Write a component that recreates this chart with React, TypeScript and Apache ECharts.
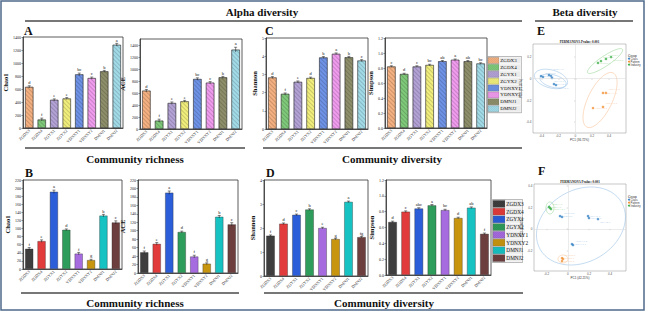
import React, { useEffect, useRef } from 'react';
import * as echarts from 'echarts';

const FONT = "'Liberation Serif', 'Times New Roman', serif";

// ---------- bar chart data ----------
const categories = ['ZGDX3', 'ZGDX4', 'ZGYX1', 'ZGYX2', 'YDNXY1', 'YDNXY2', 'DMNJ1', 'DMNJ2'];
const pastelColors = ['#F4B080', '#7FC97A', '#B3A2D6', '#F1EE7C', '#6E92E6', '#F09BEE', '#8E8F6A', '#A2DBE8'];
const vividColors = ['#3E3E3E', '#E23B3B', '#2B5ED8', '#2E9C5A', '#A66BDF', '#C8950F', '#17C2C2', '#6D3E3E'];

// Panel A (community richness, pastel)
const chao1A = [632, 130, 433, 454, 825, 768, 872, 1280];
const chao1AErr = [18, 22, 15, 14, 20, 16, 14, 22];
const chao1ALetters = ['d', 'f', 'e', 'e', 'bc', 'c', 'b', 'a'];
const aceA = [639, 139, 433, 461, 833, 772, 861, 1322];
const aceAErr = [20, 25, 18, 16, 20, 18, 16, 40];
const aceALetters = ['d', 'f', 'e', 'e', 'bc', 'c', 'b', 'a'];

// Panel B (community richness, vivid)
const chao1B = [50, 69, 191, 97, 38, 22, 132, 115];
const chao1BErr = [3, 3, 4, 2, 3, 2, 3, 4];
const chao1BLetters = ['f', 'e', 'a', 'd', 'f', 'g', 'b', 'c'];
const aceB = [49, 69, 190, 97, 39, 22, 133, 115];
const aceBErr = [3, 3, 4, 2, 3, 2, 3, 4];
const aceBLetters = ['f', 'e', 'a', 'd', 'f', 'g', 'b', 'c'];

// Panel C (community diversity, pastel)
const shannonC = [2.83, 1.93, 2.59, 2.8, 3.93, 4.13, 3.94, 3.76];
const shannonCErr = [0.05, 0.05, 0.05, 0.05, 0.05, 0.05, 0.05, 0.05];
const shannonCLetters = ['d', 'f', 'e', 'd', 'b', 'a', 'b', 'c'];
const simpsonC = [0.82, 0.72, 0.82, 0.84, 0.89, 0.91, 0.89, 0.86];
const simpsonCErr = [0.01, 0.01, 0.01, 0.01, 0.01, 0.01, 0.01, 0.01];
const simpsonCLetters = ['c', 'd', 'c', 'bc', 'ab', 'a', 'ab', 'bc'];

// Panel D (community diversity, vivid)
const shannonD = [1.68, 2.18, 2.55, 2.77, 2.0, 1.54, 3.09, 1.62];
const shannonDErr = [0.03, 0.03, 0.03, 0.03, 0.03, 0.03, 0.03, 0.03];
const shannonDLetters = ['f', 'd', 'c', 'b', 'e', 'g', 'a', 'fg'];
const simpsonD = [0.67, 0.8, 0.84, 0.88, 0.82, 0.72, 0.85, 0.52];
const simpsonDErr = [0.01, 0.01, 0.01, 0.01, 0.01, 0.01, 0.01, 0.01];
const simpsonDLetters = ['d', 'c', 'abc', 'a', 'bc', 'd', 'ab', 'f'];

// ---------- PCoA data ----------
const groupNames = ['Class', 'Pattern', 'Industry'];
const groupColors = ['#3A84C6', '#F39237', '#3DB049'];
const ellipseColors = ['#9CC3E6', '#F8C59C', '#9CD69A'];

const eClass = [
  [-0.405, 0.025, 'ZGDX3-1'], [-0.382, 0.016, 'ZGDX3-2'], [-0.311, 0.034, 'ZGDX4-1'],
  [-0.287, 0.025, 'ZGDX4-2'], [-0.275, 0.007, 'ZGYX1-1'], [-0.252, -0.049, 'ZGYX2-1'], [-0.228, -0.058, 'ZGYX2-2'],
];
const ePattern = [
  [0.328, -0.131, 'YDNXY1-1'], [0.363, -0.131, 'YDNXY1-2'], [0.21, -0.27, 'YDNXY2-1'], [0.328, -0.26, 'YDNXY2-2'],
];
const eIndustry = [
  [0.269, 0.145, 'DMNJ1-1'], [0.304, 0.163, 'DMNJ1-2'], [0.363, 0.182, 'DMNJ2-1'], [0.423, 0.2, 'DMNJ2-2'],
];
// ellipse: [cx, cy, ax, ay, bx, by, groupIndex]
const eEllipses = [
  [-0.287, -0.002, 0.194, -0.041, -0.027, -0.08, 0],
  [-0.263, -0.021, 0.154, -0.032, -0.019, -0.055, 0],
  [0.293, -0.196, 0.156, 0.249, 0.128, -0.049, 1],
  [0.352, 0.163, 0.206, 0.108, 0.033, -0.038, 2],
];

const fClass = [
  [-0.074, 0.122, 'ZGDX3-1'], [-0.055, 0.113, 'ZGDX3-2'], [0.191, 0.122, 'ZGYX1-1'],
  [0.2, 0.103, 'ZGYX1-2'], [0.285, 0.094, 'ZGYX2-1'], [0.039, -0.139, 'YDNXY1-1'], [0.049, -0.148, 'YDNXY1-2'],
];
const fPattern = [
  [-0.055, -0.269, 'DMNJ1-1'], [-0.055, -0.297, 'DMNJ1-2'], [-0.046, -0.278, 'DMNJ2-1'],
];
const fIndustry = [
  [-0.178, 0.206, 'ZGDX4-1'], [-0.169, 0.197, 'ZGDX4-2'], [-0.159, 0.187, 'YDNXY2-1'],
];
const fEllipses = [
  [0.124, 0.029, 0.385, 0.219, 0.17, -0.29, 0],
  [-0.046, -0.278, 0.047, 0, 0, -0.037, 1],
  [-0.169, 0.197, 0, 0.056, 0.038, 0, 2],
];

const hatchDecal = {
  symbol: 'rect',
  symbolSize: 1,
  color: 'rgba(0,0,0,0.16)',
  dashArrayX: [1, 0],
  dashArrayY: [1, 2],
  rotation: Math.PI / 4,
};

type BarSpec = {
  grid: { left: number; top: number; width: number; height: number };
  values: number[];
  errs: number[];
  letters: string[];
  colors: string[];
  hatch: boolean;
  max: number;
  interval: number;
  name: string;
  nameGap: number;
  decimals: number;
};

const barSpecs: BarSpec[] = [
  { grid: { left: 23, top: 37, width: 100, height: 91 }, values: chao1A, errs: chao1AErr, letters: chao1ALetters, colors: pastelColors, hatch: true, max: 1400, interval: 200, name: 'Chao1', nameGap: 11, decimals: 0 },
  { grid: { left: 140, top: 39, width: 102, height: 90 }, values: aceA, errs: aceAErr, letters: aceALetters, colors: pastelColors, hatch: true, max: 1500, interval: 200, name: 'ACE', nameGap: 10, decimals: 0 },
  { grid: { left: 266, top: 38, width: 102, height: 91 }, values: shannonC, errs: shannonCErr, letters: shannonCLetters, colors: pastelColors, hatch: true, max: 5, interval: 1, name: 'Shannon', nameGap: 6, decimals: 0 },
  { grid: { left: 385, top: 38, width: 102, height: 90 }, values: simpsonC, errs: simpsonCErr, letters: simpsonCLetters, colors: pastelColors, hatch: true, max: 1.2, interval: 0.2, name: 'Simpson', nameGap: 7, decimals: 1 },
  { grid: { left: 23, top: 180, width: 99, height: 89 }, values: chao1B, errs: chao1BErr, letters: chao1BLetters, colors: vividColors, hatch: false, max: 220, interval: 20, name: 'Chao1', nameGap: 9, decimals: 0 },
  { grid: { left: 138, top: 180, width: 100, height: 93 }, values: aceB, errs: aceBErr, letters: aceBLetters, colors: vividColors, hatch: false, max: 220, interval: 20, name: 'ACE', nameGap: 9, decimals: 0 },
  { grid: { left: 264, top: 180, width: 104, height: 96 }, values: shannonD, errs: shannonDErr, letters: shannonDLetters, colors: vividColors, hatch: false, max: 4, interval: 1, name: 'Shannon', nameGap: 6, decimals: 0 },
  { grid: { left: 386, top: 180, width: 105, height: 95 }, values: simpsonD, errs: simpsonDErr, letters: simpsonDLetters, colors: vividColors, hatch: false, max: 1.2, interval: 0.2, name: 'Simpson', nameGap: 7, decimals: 1 },
];

function legendGfx(x0: number, y0: number, rowH: number, swW: number, boxW: number, colors: string[], fontSize: number) {
  const els: any[] = [];
  els.push({ type: 'rect', shape: { x: x0 - 0.5, y: y0 - 0.5, width: boxW + 1, height: rowH * categories.length + 1 }, style: { fill: '#f2f2f2', stroke: '#8a8a8a', lineWidth: 0.6 } });
  categories.forEach((c, i) => {
    const y = y0 + i * rowH;
    const h = rowH - 0.8;
    els.push({ type: 'rect', shape: { x: x0, y: y + 0.4, width: swW, height: h }, style: { fill: colors[i], stroke: '#666', lineWidth: 0.3 } });
    for (let s = 1.5; s < swW + h; s += 2) {
      const u1 = Math.max(0, s - h);
      const u2 = Math.min(swW, s);
      els.push({ type: 'line', shape: { x1: x0 + u1, y1: y + 0.4 + (s - u1), x2: x0 + u2, y2: y + 0.4 + (s - u2) }, style: { stroke: 'rgba(0,0,0,0.22)', lineWidth: 0.35 } });
    }
    els.push({ type: 'rect', shape: { x: x0 + swW + 0.5, y: y + 0.3, width: boxW - swW - 0.5, height: rowH - 0.6 }, style: { fill: '#ebebeb', stroke: '#ffffff', lineWidth: 0.4 } });
    els.push({ type: 'text', x: x0 + swW + 1.3, y: y + rowH / 2, style: { text: c, fontSize, fontFamily: FONT, fill: '#111', align: 'left', verticalAlign: 'middle', textAlign: 'left', textVerticalAlign: 'middle' } });
  });
  return els;
}

function txt(text: string, x: number, y: number, size: number, bold = true, align = 'center') {
  return {
    type: 'text', x, y,
    style: { text, fontSize: size, fontWeight: bold ? 'bold' : 'normal', fontFamily: FONT, fill: '#111', align, verticalAlign: 'middle', textAlign: align, textVerticalAlign: 'middle' },
  };
}
function hline(x1: number, x2: number, y: number, w = 1.5, color = '#4a4a4a') {
  return { type: 'line', shape: { x1, y1: y, x2, y2: y }, style: { stroke: color, lineWidth: w } };
}

function pcoaLegend(x: number, y: number) {
  const els: any[] = [txt('Group', x, y, 3.4, false, 'left')];
  groupNames.forEach((g, i) => {
    const yy = y + 3.2 + i * 3;
    els.push({ type: 'circle', shape: { cx: x + 1, cy: yy, r: 1 }, style: { fill: groupColors[i] } });
    els.push({ type: 'text', x: x + 2.6, y: yy, style: { text: g, fontSize: 2.8, fontFamily: 'Liberation Sans, sans-serif', fill: '#333', align: 'left', verticalAlign: 'middle', textAlign: 'left', textVerticalAlign: 'middle' } });
  });
  return els;
}

// simple greedy label repel for the tiny sample labels
const placedLabels = new Map<string, number[]>();
function repelLabel(params: any) {
  const r = params.labelRect;
  const key = params.seriesIndex + '-' + params.dataIndex;
  const offsets = [0, -3.2, 3.2, -6.4, 6.4, -9.6, 9.6, -12.8, 12.8];
  for (const dy of offsets) {
    const rr = [r.x, r.y + dy, r.width, r.height];
    let ok = true;
    for (const [k, o] of placedLabels) {
      if (k === key) continue;
      if (rr[0] < o[0] + o[2] && o[0] < rr[0] + rr[2] && rr[1] < o[1] + o[3] && o[1] < rr[1] + rr[3]) { ok = false; break; }
    }
    if (ok) {
      placedLabels.set(key, rr);
      return { dy };
    }
  }
  placedLabels.set(key, [r.x, r.y, r.width, r.height]);
  return { dy: 0 };
}

function buildOption() {
  const grid: any[] = [];
  const xAxis: any[] = [];
  const yAxis: any[] = [];
  const series: any[] = [];

  barSpecs.forEach((b, gi) => {
    grid.push({ ...b.grid, show: true, borderColor: '#333', borderWidth: 0.8, containLabel: false, outerBoundsMode: 'none' });
    xAxis.push({
      type: 'category', gridIndex: gi, data: categories,
      axisLabel: { rotate: 45, fontSize: 4.2, margin: 2, interval: 0, fontFamily: FONT, color: '#222' },
      axisTick: { show: false },
      axisLine: { lineStyle: { color: '#333', width: 0.8 } },
    });
    const ratio = b.max / b.interval;
    yAxis.push({
      type: 'value', gridIndex: gi, min: 0, max: b.max, interval: b.interval,
      axisLabel: {
        fontSize: 4, margin: 2, fontFamily: FONT, color: '#222',
        showMaxLabel: Math.abs(ratio - Math.round(ratio)) < 1e-6,
        formatter: (v: number) => v.toFixed(b.decimals),
      },
      axisTick: { show: true, length: 1.5, lineStyle: { color: '#333', width: 0.5 } },
      axisLine: { show: true, lineStyle: { color: '#333', width: 0.8 } },
      splitLine: { show: false },
      name: b.name, nameLocation: 'middle', nameGap: b.nameGap,
      nameTextStyle: { fontSize: 6.5, fontWeight: 'bold', fontFamily: FONT, color: '#111' },
    });
    series.push({
      type: 'bar', xAxisIndex: gi, yAxisIndex: gi, barWidth: '66%',
      itemStyle: { borderColor: 'rgba(40,40,40,0.7)', borderWidth: 0.5 },
      data: b.values.map((v, i) => ({ value: v, itemStyle: { color: b.colors[i], decal: b.hatch ? hatchDecal : undefined } })),
    });
    series.push({
      type: 'custom', xAxisIndex: gi, yAxisIndex: gi, silent: true, z: 5,
      data: b.values.map((v, i) => [i, v, b.errs[i]]),
      renderItem: (params: any, api: any) => {
        const i = api.value(0), v = api.value(1), e = api.value(2);
        const pTop = api.coord([i, v + e]);
        const pBot = api.coord([i, Math.max(0, v - e)]);
        const cw = api.size([1, 0])[0] * 0.12;
        return {
          type: 'group',
          children: [
            { type: 'line', shape: { x1: pTop[0], y1: pTop[1], x2: pBot[0], y2: pBot[1] }, style: { stroke: '#111', lineWidth: 0.5 } },
            { type: 'line', shape: { x1: pTop[0] - cw, y1: pTop[1], x2: pTop[0] + cw, y2: pTop[1] }, style: { stroke: '#111', lineWidth: 0.5 } },
            { type: 'text', x: pTop[0], y: pTop[1] - 0.8, style: { text: b.letters[params.dataIndex], fontSize: 4.5, fontFamily: FONT, fill: '#111', align: 'center', verticalAlign: 'bottom', textAlign: 'center', textVerticalAlign: 'bottom' } },
          ],
        };
      },
    });
  });

  const pcoas = [
    { grid: { left: 533, top: 44, width: 93, height: 89 }, xr: [-0.5, 0.6], yr: [-0.5, 0.32], groups: [eClass, ePattern, eIndustry], ells: eEllipses, xName: 'PC1 (36.72%)', yName: 'PC2 (21.35%)' },
    { grid: { left: 534, top: 184, width: 92, height: 87 }, xr: [-0.32, 0.55], yr: [-0.39, 0.42], groups: [fClass, fPattern, fIndustry], ells: fEllipses, xName: 'PC1 (42.21%)', yName: 'PC2 (25.06%)' },
  ];
  pcoas.forEach((p) => {
    const gi = grid.length;
    grid.push({ ...p.grid, show: true, borderColor: '#8c8c8c', borderWidth: 0.5, containLabel: false, outerBoundsMode: 'none' });
    const axisCommon = {
      axisLabel: { fontSize: 3, margin: 1.5, color: '#555', showMinLabel: false, showMaxLabel: false, fontFamily: 'Liberation Sans, sans-serif' },
      axisTick: { show: true, length: 1, lineStyle: { color: '#888', width: 0.4 } },
      axisLine: { show: false },
      splitLine: { show: false },
      nameLocation: 'middle',
      nameTextStyle: { fontSize: 3, color: '#333', fontFamily: 'Liberation Sans, sans-serif' },
    };
    xAxis.push({ type: 'value', gridIndex: gi, min: p.xr[0], max: p.xr[1], name: p.xName, nameGap: 5, ...axisCommon });
    yAxis.push({ type: 'value', gridIndex: gi, min: p.yr[0], max: p.yr[1], name: p.yName, nameGap: 6, ...axisCommon });
    series.push({
      type: 'custom', xAxisIndex: gi, yAxisIndex: gi, silent: true, z: 1,
      data: p.ells,
      renderItem: (params: any, api: any) => {
        const cx = api.value(0), cy = api.value(1), ax = api.value(2), ay = api.value(3), bx = api.value(4), by = api.value(5);
        const g = p.ells[params.dataIndex][6] as number;
        const pts: number[][] = [];
        for (let k = 0; k <= 60; k++) {
          const t = (2 * Math.PI * k) / 60;
          pts.push(api.coord([cx + ax * Math.cos(t) + bx * Math.sin(t), cy + ay * Math.cos(t) + by * Math.sin(t)]));
        }
        return { type: 'polygon', shape: { points: pts }, style: { fill: 'none', stroke: ellipseColors[g], lineWidth: 0.6 } };
      },
    });
    p.groups.forEach((pts, k) => {
      series.push({
        type: 'scatter', name: groupNames[k], xAxisIndex: gi, yAxisIndex: gi, z: 3,
        symbolSize: 2.6,
        itemStyle: { color: groupColors[k] },
        data: pts.map((q) => [q[0], q[1], q[2]]),
        label: { show: true, position: 'right', distance: 1, fontSize: 2.4, color: ellipseColors[k], formatter: (pp: any) => pp.data[2] },
        labelLayout: repelLabel,
        markLine: k === 0 ? {
          silent: true, symbol: ['none', 'none'], label: { show: false },
          lineStyle: { color: '#d6d6d6', width: 0.5, type: 'solid' },
          data: [{ xAxis: 0 }, { yAxis: 0 }],
        } : undefined,
      });
    });
  });

  const graphic: any[] = [
    { type: 'rect', shape: { x: 1, y: 1, width: 643, height: 309 }, style: { fill: 'none', stroke: '#4f6a8c', lineWidth: 1.5 } },
    txt('Alpha diversity', 262, 12, 11),
    hline(25, 522, 21),
    txt('Beta diversity', 585, 12, 11),
    hline(535, 633, 21),
    txt('A', 24, 31, 12, true, 'left'),
    txt('B', 25, 172.5, 12, true, 'left'),
    txt('C', 265, 31, 12, true, 'left'),
    txt('D', 266, 172.5, 12, true, 'left'),
    txt('E', 537, 30.5, 12, true, 'left'),
    txt('F', 538, 171, 12, true, 'left'),
    hline(25, 245, 148),
    hline(263, 522, 148),
    hline(21, 239, 293),
    hline(264, 523, 293),
    txt('Community richness', 135, 158.5, 11),
    txt('Community diversity', 392, 158.5, 11),
    txt('Community richness', 135, 302.5, 11),
    txt('Community diversity', 384, 302.5, 11),
    txt('PERMANOVA Pvalue: 0.001', 579.5, 41.5, 3.2, true),
    txt('PERMANOVA Pvalue: 0.001', 580, 181.5, 3.2, true),
    ...legendGfx(488, 57, 6.9, 11, 33, pastelColors, 5),
    ...legendGfx(493, 200, 7.75, 12, 29, vividColors, 5.3),
    ...pcoaLegend(628, 55.5),
    ...pcoaLegend(628, 196.5),
  ];

  return { animation: false, backgroundColor: '#ffffff', grid, xAxis, yAxis, series, graphic };
}

export default function App() {
  const ref = useRef<HTMLDivElement>(null);
  useEffect(() => {
    if (!ref.current) return;
    placedLabels.clear();
    const chart = echarts.init(ref.current, null, { renderer: 'svg', width: 646, height: 312 });
    chart.setOption(buildOption() as any);
    return () => chart.dispose();
  }, []);
  return <div ref={ref} style={{ position: 'absolute', left: 0, top: 0, width: 646, height: 312 }} />;
}
